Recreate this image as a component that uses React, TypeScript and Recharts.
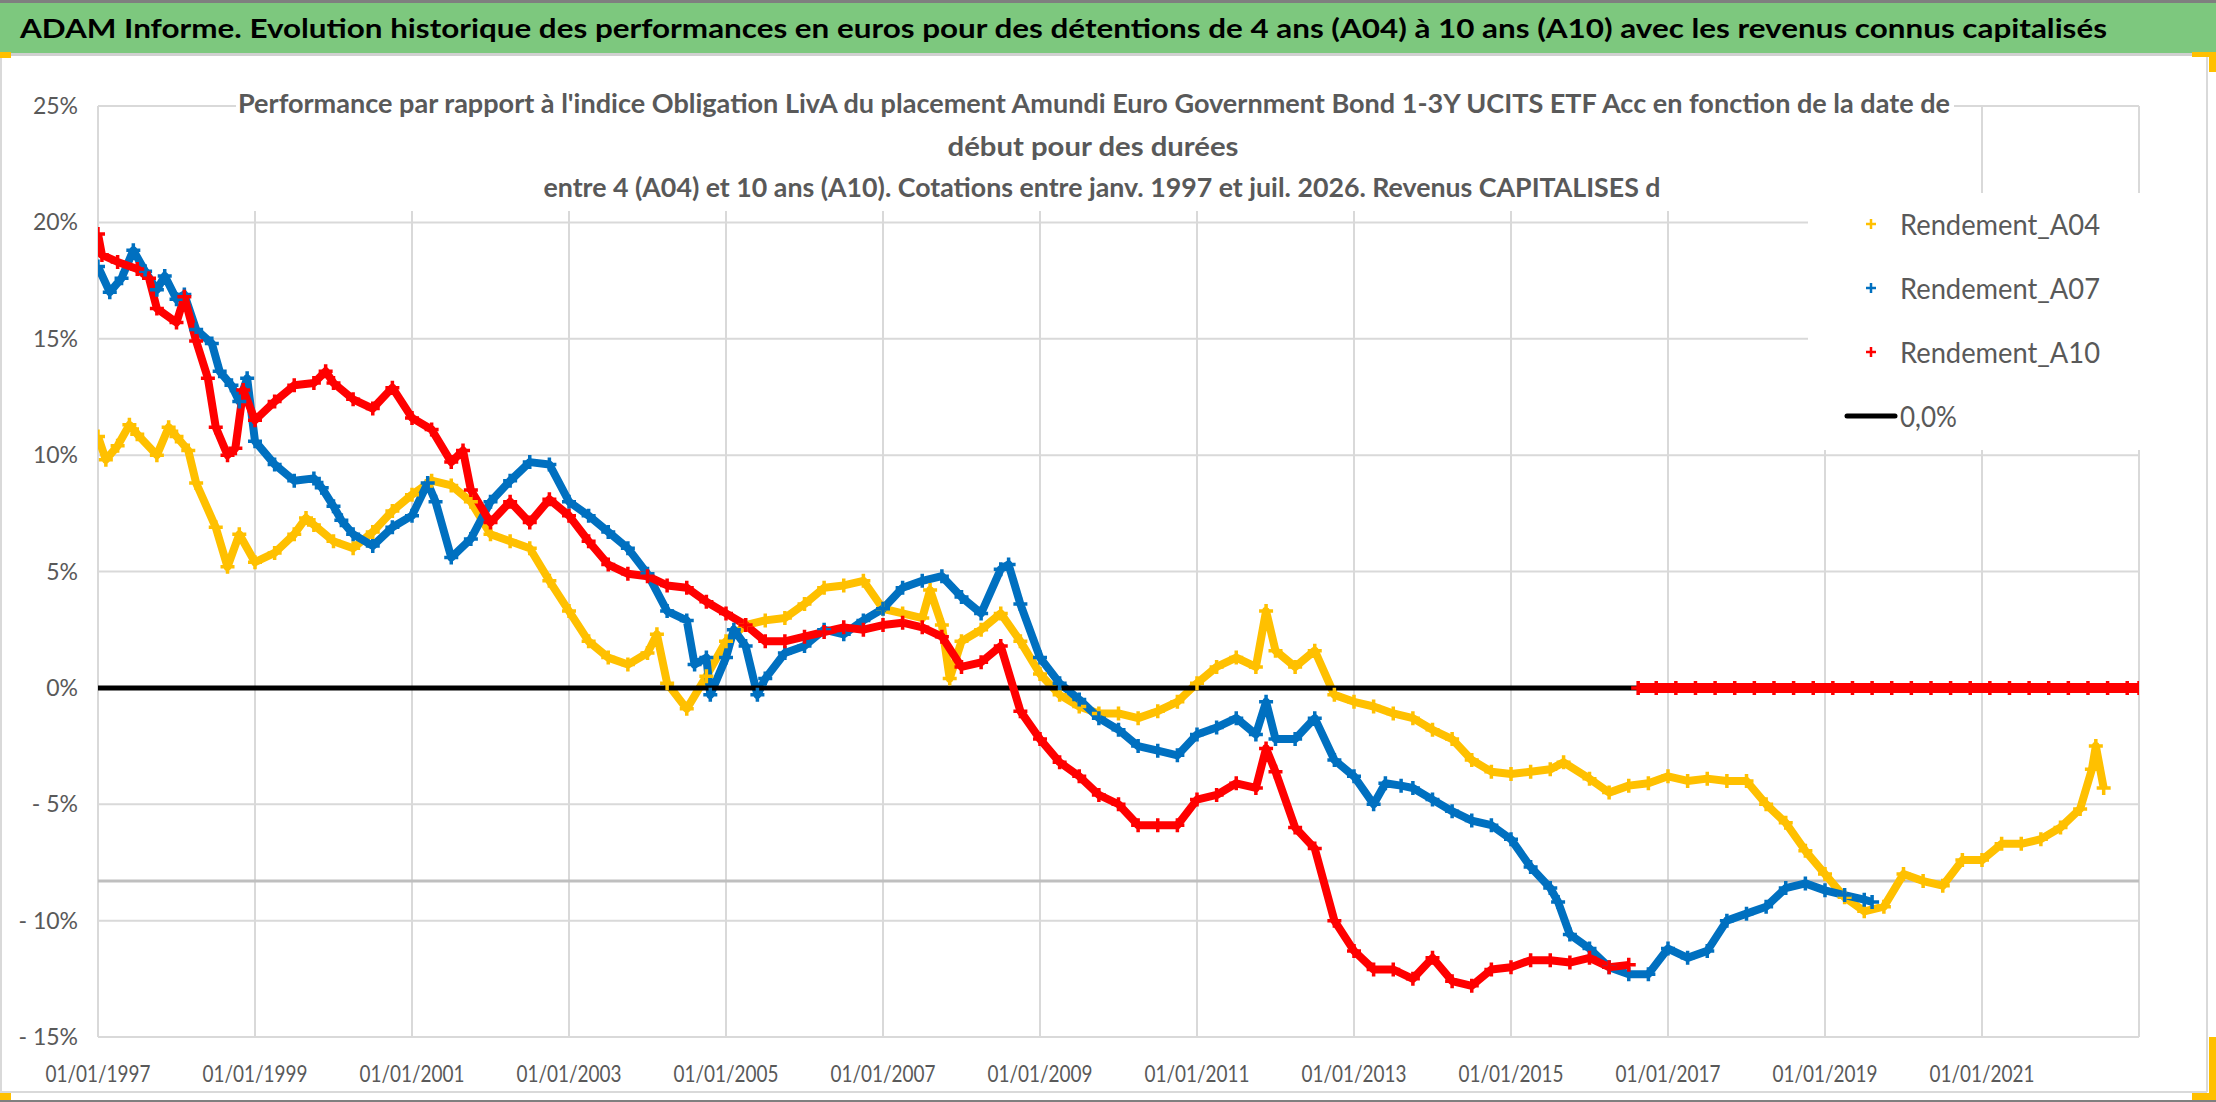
import { CartesianGrid, ComposedChart, Line, XAxis, YAxis } from "recharts";

// Rendement A04 : [date (année décimale), performance en %]
const A04 = [
  [1997.0, 10.8], [1997.1, 9.8], [1997.25, 10.4], [1997.4, 11.3], [1997.5, 10.9], [1997.75, 10.0],
  [1997.9, 11.2], [1998.0, 10.8], [1998.15, 10.2], [1998.25, 8.8], [1998.5, 6.9], [1998.65, 5.2],
  [1998.8, 6.6], [1999.0, 5.4], [1999.25, 5.8], [1999.5, 6.6], [1999.65, 7.3], [1999.75, 7.0],
  [2000.0, 6.3], [2000.25, 6.0], [2000.5, 6.7], [2000.75, 7.6], [2001.0, 8.3], [2001.25, 8.9],
  [2001.5, 8.7], [2001.75, 8.0], [2002.0, 6.6], [2002.25, 6.3], [2002.5, 6.0], [2002.75, 4.6],
  [2003.0, 3.3], [2003.25, 2.0], [2003.5, 1.3], [2003.75, 1.0], [2004.0, 1.5], [2004.12, 2.3],
  [2004.25, 0.2], [2004.5, -0.9], [2004.75, 0.5], [2005.0, 2.0], [2005.25, 2.7], [2005.5, 2.9],
  [2005.75, 3.0], [2006.0, 3.6], [2006.25, 4.3], [2006.5, 4.4], [2006.75, 4.6], [2007.0, 3.4],
  [2007.25, 3.2], [2007.5, 3.0], [2007.6, 4.2], [2007.75, 2.7], [2007.85, 0.4], [2008.0, 2.0],
  [2008.25, 2.5], [2008.5, 3.2], [2008.75, 2.0], [2009.0, 0.6], [2009.25, -0.3], [2009.5, -0.8],
  [2009.75, -1.1], [2010.0, -1.1], [2010.25, -1.3], [2010.5, -1.0], [2010.75, -0.6], [2011.0, 0.2],
  [2011.25, 0.9], [2011.5, 1.3], [2011.75, 0.9], [2011.88, 3.3], [2012.0, 1.6], [2012.25, 0.9],
  [2012.5, 1.6], [2012.75, -0.3], [2013.0, -0.6], [2013.25, -0.8], [2013.5, -1.1], [2013.75, -1.3],
  [2014.0, -1.8], [2014.25, -2.2], [2014.5, -3.1], [2014.75, -3.6], [2015.0, -3.7], [2015.25, -3.6],
  [2015.5, -3.5], [2015.67, -3.2], [2016.0, -3.9], [2016.25, -4.5], [2016.5, -4.2], [2016.75, -4.1],
  [2017.0, -3.8], [2017.25, -4.0], [2017.5, -3.9], [2017.75, -4.0], [2018.0, -4.0], [2018.25, -5.0],
  [2018.5, -5.8], [2018.75, -7.0], [2019.0, -8.0], [2019.25, -9.0], [2019.5, -9.6], [2019.75, -9.4],
  [2020.0, -8.0], [2020.25, -8.3], [2020.5, -8.5], [2020.75, -7.4], [2021.0, -7.4], [2021.25, -6.7],
  [2021.5, -6.7], [2021.75, -6.5], [2022.0, -6.0], [2022.25, -5.2], [2022.4, -3.5], [2022.45, -2.5],
  [2022.55, -4.3],
];

// Rendement A07
const A07 = [
  [1997.0, 18.1], [1997.15, 17.0], [1997.3, 17.6], [1997.45, 18.8], [1997.6, 17.9], [1997.75, 17.1],
  [1997.85, 17.7], [1998.0, 16.7], [1998.1, 16.9], [1998.25, 15.4], [1998.45, 14.8], [1998.55, 13.6],
  [1998.7, 13.0], [1998.8, 12.3], [1998.9, 13.3], [1999.0, 10.6], [1999.25, 9.6], [1999.5, 8.9],
  [1999.75, 9.0], [1999.85, 8.6], [2000.0, 7.8], [2000.1, 7.2], [2000.25, 6.6], [2000.5, 6.1],
  [2000.75, 6.9], [2001.0, 7.4], [2001.2, 8.8], [2001.3, 8.0], [2001.5, 5.6], [2001.75, 6.4],
  [2002.0, 8.0], [2002.25, 8.9], [2002.5, 9.7], [2002.75, 9.6], [2003.0, 8.0], [2003.25, 7.4],
  [2003.5, 6.7], [2003.75, 6.0], [2004.0, 4.9], [2004.25, 3.3], [2004.5, 2.9], [2004.6, 1.0],
  [2004.75, 1.3], [2004.8, -0.3], [2005.0, 1.3], [2005.1, 2.5], [2005.25, 1.8], [2005.4, -0.3],
  [2005.5, 0.4], [2005.75, 1.5], [2006.0, 1.8], [2006.25, 2.5], [2006.5, 2.3], [2006.75, 2.9],
  [2007.0, 3.4], [2007.25, 4.3], [2007.5, 4.6], [2007.75, 4.8], [2008.0, 3.9], [2008.25, 3.2],
  [2008.5, 5.1], [2008.6, 5.3], [2008.75, 3.6], [2009.0, 1.3], [2009.25, 0.2], [2009.5, -0.5],
  [2009.75, -1.3], [2010.0, -1.8], [2010.25, -2.5], [2010.5, -2.7], [2010.75, -2.9], [2011.0, -2.0],
  [2011.25, -1.7], [2011.5, -1.3], [2011.75, -2.0], [2011.88, -0.6], [2012.0, -2.2], [2012.25, -2.2],
  [2012.5, -1.3], [2012.75, -3.1], [2013.0, -3.8], [2013.25, -5.0], [2013.4, -4.1], [2013.6, -4.2],
  [2013.75, -4.3], [2014.0, -4.8], [2014.25, -5.3], [2014.5, -5.7], [2014.75, -5.9], [2015.0, -6.5],
  [2015.25, -7.7], [2015.5, -8.6], [2015.6, -9.2], [2015.75, -10.6], [2016.0, -11.2], [2016.25, -12.0],
  [2016.5, -12.3], [2016.75, -12.3], [2017.0, -11.2], [2017.25, -11.6], [2017.5, -11.3], [2017.75, -10.0],
  [2018.0, -9.7], [2018.25, -9.4], [2018.5, -8.6], [2018.75, -8.4], [2019.0, -8.7], [2019.25, -8.9],
  [2019.5, -9.1], [2019.6, -9.2],
];

// Rendement A10
const A10 = [
  [1997.0, 19.5], [1997.05, 18.6], [1997.25, 18.3], [1997.5, 18.0], [1997.65, 17.6], [1997.75, 16.3],
  [1998.0, 15.7], [1998.1, 16.8], [1998.25, 14.9], [1998.4, 13.3], [1998.5, 11.2], [1998.65, 10.0],
  [1998.75, 10.3], [1998.85, 12.8], [1999.0, 11.5], [1999.25, 12.3], [1999.5, 13.0], [1999.75, 13.1],
  [1999.9, 13.6], [2000.0, 13.1], [2000.25, 12.4], [2000.5, 12.0], [2000.75, 12.9], [2001.0, 11.6],
  [2001.25, 11.1], [2001.5, 9.7], [2001.65, 10.2], [2001.75, 8.5], [2002.0, 7.1], [2002.25, 8.0],
  [2002.5, 7.1], [2002.75, 8.1], [2003.0, 7.4], [2003.25, 6.3], [2003.5, 5.3], [2003.75, 4.9],
  [2004.0, 4.8], [2004.25, 4.4], [2004.5, 4.3], [2004.75, 3.7], [2005.0, 3.2], [2005.25, 2.7],
  [2005.5, 2.0], [2005.75, 2.0], [2006.0, 2.2], [2006.25, 2.4], [2006.5, 2.6], [2006.75, 2.5],
  [2007.0, 2.7], [2007.25, 2.8], [2007.5, 2.6], [2007.75, 2.2], [2008.0, 0.9], [2008.25, 1.1],
  [2008.5, 1.8], [2008.75, -1.0], [2009.0, -2.2], [2009.25, -3.2], [2009.5, -3.8], [2009.75, -4.6],
  [2010.0, -5.0], [2010.25, -5.9], [2010.5, -5.9], [2010.75, -5.9], [2011.0, -4.8], [2011.25, -4.6],
  [2011.5, -4.1], [2011.75, -4.3], [2011.88, -2.6], [2012.0, -3.6], [2012.25, -6.0], [2012.5, -6.9],
  [2012.75, -10.0], [2013.0, -11.3], [2013.25, -12.1], [2013.5, -12.1], [2013.75, -12.5], [2014.0, -11.6],
  [2014.25, -12.6], [2014.5, -12.8], [2014.75, -12.1], [2015.0, -12.0], [2015.25, -11.7], [2015.5, -11.7],
  [2015.75, -11.8], [2016.0, -11.6], [2016.25, -12.0], [2016.5, -11.9],
];

// A10 sans revenus connus : valeurs à 0
const A10_ZERO = [
  [2016.62, 0], [2016.85, 0], [2017.1, 0], [2017.35, 0], [2017.6, 0], [2017.85, 0], [2018.1, 0],
  [2018.35, 0], [2018.6, 0], [2018.85, 0], [2019.1, 0], [2019.35, 0], [2019.6, 0], [2019.85, 0],
  [2020.1, 0], [2020.35, 0], [2020.6, 0], [2020.85, 0], [2021.1, 0], [2021.35, 0], [2021.6, 0],
  [2021.85, 0], [2022.1, 0], [2022.35, 0], [2022.6, 0], [2022.85, 0], [2023.0, 0],
];

const ZERO_LINE = [[1997, 0], [2023, 0]];
const NIVEAU = [[1997, -8.3], [2023, -8.3]];

const X_TICKS = [1997, 1999, 2001, 2003, 2005, 2007, 2009, 2011, 2013, 2015, 2017, 2019, 2021];
const Y_TICKS = [-15, -10, -5, 0, 5, 10, 15, 20, 25];

const LEGEND = [
  { name: "Rendement_A04", color: "#FFC000" },
  { name: "Rendement_A07", color: "#0070C0" },
  { name: "Rendement_A10", color: "#FF0000" },
];

const TITLE =
  "ADAM Informe. Evolution historique des performances en euros pour des détentions de 4 ans (A04) à 10 ans (A10) avec les revenus connus capitalisés";
const SUBTITLE = [
  "Performance par rapport à l'indice Obligation LivA  du placement Amundi Euro Government Bond 1-3Y UCITS ETF Acc en fonction de la date de",
  "début pour des durées",
  "entre 4 (A04) et 10 ans (A10). Cotations entre janv. 1997 et juil. 2026. Revenus CAPITALISES d",
];

const FONT = "Lato, 'Open Sans', sans-serif";
const GREY = "#595959";

const toPoints = (rows: number[][]) => rows.map(([date, value]) => ({ date, value }));

const crossDot = (size: number) => (props: any) => {
  const { cx, cy, stroke, index } = props;
  if (cx == null || cy == null) return <g key={index} />;
  return (
    <path
      key={index}
      d={`M${cx - size},${cy}H${cx + size}M${cx},${cy - size}V${cy + size}`}
      stroke={stroke}
      strokeWidth={3.5}
      fill="none"
    />
  );
};

function XTick(props: any) {
  const { x, payload } = props;
  return (
    <text x={x} y={1082} textAnchor="middle" fontFamily={FONT} fontSize={24} fill={GREY}
      textLength={105} lengthAdjust="spacingAndGlyphs">
      {`01/01/${payload.value}`}
    </text>
  );
}

function YTick(props: any) {
  const { y, payload } = props;
  const v = payload.value;
  const label = v < 0 ? `- ${Math.abs(v)}%` : `${v}%`;
  return (
    <text x={78} y={y + 8} textAnchor="end" fontFamily={FONT} fontSize={23} fill={GREY}>
      {label}
    </text>
  );
}

function Overlay() {
  return (
    <svg width={2216} height={1102} style={{ position: "absolute", left: 0, top: 0, pointerEvents: "none" }}>
      {/* bandeau */}
      <rect x={0} y={0} width={2216} height={3} fill="#7F7F7F" />
      <rect x={0} y={3} width={2216} height={50} fill="#7DC87E" />
      <rect x={0} y={53} width={2216} height={3} fill="#D0D0D0" />
      <text x={20} y={38} fontFamily={FONT} fontWeight={700} fontSize={27} fill="#000"
        textLength={2087} lengthAdjust="spacingAndGlyphs">
        {TITLE}
      </text>
      {/* cadre */}
      <line x1={1} y1={56} x2={1} y2={1092} stroke="#D9D9D9" strokeWidth={2} />
      <line x1={2207} y1={56} x2={2207} y2={1092} stroke="#D9D9D9" strokeWidth={2} />
      <line x1={0} y1={1092} x2={2207} y2={1092} stroke="#D9D9D9" strokeWidth={2} />
      <rect x={0} y={1100} width={2216} height={2} fill="#7F7F7F" />
      <rect x={0} y={52} width={11} height={6} fill="#FFC000" />
      <rect x={0} y={1093} width={11} height={7} fill="#FFC000" />
      <rect x={2192} y={52} width={24} height={5} fill="#FFC000" />
      <rect x={2209} y={52} width={7} height={20} fill="#FFC000" />
      <rect x={2209} y={1037} width={7} height={63} fill="#FFC000" />
      <rect x={2192} y={1093} width={24} height={7} fill="#FFC000" />
      {/* sous-titre */}
      <rect x={236} y={90} width={1718} height={121} fill="#fff" />
      <text x={1094} y={113} textAnchor="middle" fontFamily={FONT} fontWeight={700} fontSize={27} fill={GREY}
        textLength={1712} lengthAdjust="spacingAndGlyphs">
        {SUBTITLE[0]}
      </text>
      <text x={1093} y={156} textAnchor="middle" fontFamily={FONT} fontWeight={700} fontSize={27} fill={GREY}
        textLength={291} lengthAdjust="spacingAndGlyphs">
        {SUBTITLE[1]}
      </text>
      <text x={1102} y={197} textAnchor="middle" fontFamily={FONT} fontWeight={700} fontSize={27} fill={GREY}
        textLength={1117} lengthAdjust="spacingAndGlyphs">
        {SUBTITLE[2]}
      </text>
      {/* légende */}
      <rect x={1808} y={193} width={340} height={257} fill="#fff" />
      {LEGEND.map((item, i) => {
        const cy = 224 + i * 64;
        return (
          <g key={item.name}>
            <path d={`M${1866},${cy}H${1876}M${1871},${cy - 5}V${cy + 5}`} stroke={item.color} strokeWidth={2.5} />
            <text x={1900} y={cy + 11} fontFamily={FONT} fontSize={29} fill={GREY}
              textLength={200} lengthAdjust="spacingAndGlyphs">
              {item.name}
            </text>
          </g>
        );
      })}
      <line x1={1847} y1={416} x2={1895} y2={416} stroke="#000" strokeWidth={5} strokeLinecap="round" />
      <text x={1900} y={427} fontFamily={FONT} fontSize={29} fill={GREY} textLength={57} lengthAdjust="spacingAndGlyphs">
        0,0%
      </text>
    </svg>
  );
}

export default function App() {
  return (
    <div style={{ position: "absolute", left: 0, top: 0, width: 2216, height: 1102, background: "#fff", overflow: "hidden" }}>
      <ComposedChart width={2216} height={1102} margin={{ top: 106, right: 77, bottom: 10, left: 0 }}>
        <CartesianGrid stroke="#D9D9D9" strokeWidth={2} />
        <XAxis dataKey="date" type="number" domain={[1997, 2023]} ticks={X_TICKS} allowDataOverflow
          axisLine={false} tickLine={false} height={55} tick={<XTick />} interval={0} />
        <YAxis type="number" domain={[-15, 25]} ticks={Y_TICKS} allowDataOverflow
          axisLine={false} tickLine={false} width={98} tick={<YTick />} interval={0} />
        <Line data={toPoints(NIVEAU)} dataKey="value" stroke="#BFBFBF" strokeWidth={3} dot={false}
          activeDot={false} isAnimationActive={false} />
        <Line data={toPoints(A04)} dataKey="value" stroke="#FFC000" strokeWidth={8} strokeLinejoin="round"
          dot={crossDot(7)} activeDot={false} isAnimationActive={false} />
        <Line data={toPoints(A07)} dataKey="value" stroke="#0070C0" strokeWidth={8} strokeLinejoin="round"
          dot={crossDot(7)} activeDot={false} isAnimationActive={false} />
        <Line data={toPoints(ZERO_LINE)} dataKey="value" stroke="#000" strokeWidth={5} dot={false}
          activeDot={false} isAnimationActive={false} />
        <Line data={toPoints(A10)} dataKey="value" stroke="#FF0000" strokeWidth={8} strokeLinejoin="round"
          dot={crossDot(7)} activeDot={false} isAnimationActive={false} />
        <Line data={toPoints(A10_ZERO)} dataKey="value" stroke="#FF0000" strokeWidth={10}
          dot={crossDot(7)} activeDot={false} isAnimationActive={false} />
      </ComposedChart>
      <Overlay />
    </div>
  );
}
